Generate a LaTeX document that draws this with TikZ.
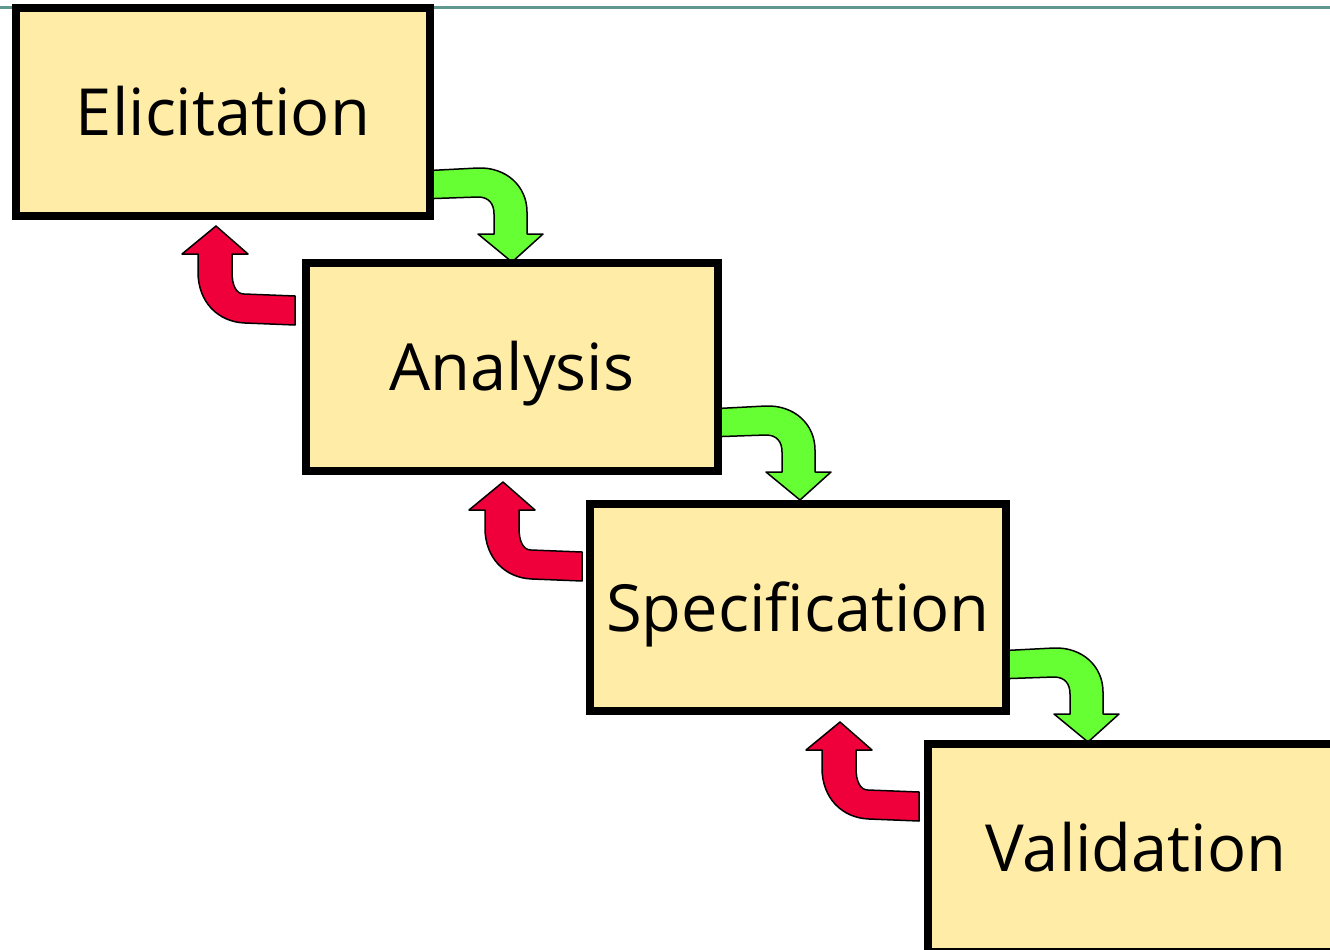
\documentclass[tikz,border=0pt]{standalone}
\usepackage{fontspec}
\setmainfont{Open Sans}
\usetikzlibrary{calc}

\definecolor{boxfill}{HTML}{FFECA6}
\definecolor{fwdgreen}{HTML}{66FF33}
\definecolor{backred}{HTML}{F0003A}
\definecolor{rulecol}{HTML}{5F9791}

\tikzset{
  stage/.style={draw=black, line width=8pt, fill=boxfill, inner sep=0pt,
    minimum height=208pt, text height=47pt, text depth=0pt,
    font=\fontsize{65}{78}\selectfont},
  blockline/.style={draw=black, line width=1.5pt, line join=round},
  % bent arrow going right, then down onto the next stage (origin = tip)
  pics/fwdarrow/.style={code={
    \path[blockline, fill=fwdgreen]
      (-92,-91) -- (-34,-94) .. controls (-6,-95) and (15,-76) .. (15,-50)
      -- (15,-28) -- (31,-28) -- (0,0) -- (-34,-28) -- (-18,-28) -- (-18,-48)
      .. controls (-18,-58) and (-23,-65) .. (-34,-65) -- (-92,-63) -- cycle;
  }},
  % bent arrow going left, then up back to the previous stage (origin = tip)
  pics/backarrow/.style={code={
    \path[blockline, fill=backred]
      (0,0) -- (32,28) -- (16,28) -- (16,46)
      .. controls (16,59) and (20,68) .. (28,68) -- (79,70) -- (79,99)
      -- (29,97) .. controls (2,96) and (-18,76) .. (-18,46)
      -- (-18,28) -- (-34,28) -- cycle;
  }}
}

\begin{document}
\begin{tikzpicture}[x=1pt, y=-1pt]
  \useasboundingbox (0,0) rectangle (1330,950);
  \clip (0,0) rectangle (1330,950);

  % header rule
  \draw[rulecol, line width=3pt] (0,8) -- (1330,8);

  % arrow tips
  \coordinate (g1) at (512,262);
  \coordinate (g2) at (800,500);
  \coordinate (g3) at (1088,742);
  \coordinate (r1) at (216,226);
  \coordinate (r2) at (503,482);
  \coordinate (r3) at (840,722);

  % forward and feedback arrows (drawn beneath the stages)
  \pic at (g1) {fwdarrow};
  \pic at (g2) {fwdarrow};
  \pic at (g3) {fwdarrow};
  \pic at (r1) {backarrow};
  \pic at (r2) {backarrow};
  \pic at (r3) {backarrow};

  % stages
  \node[stage, minimum width=414pt] (eli)  at (223,112)   {Elicitation};
  \node[stage, minimum width=412pt] (ana)  at (512,367)   {Analysis};
  \node[stage, minimum width=416pt, minimum height=207pt] (spec) at (798,607.5) {Specification};
  \node[stage, minimum width=416pt] (val)  at (1136,848)  {Validation};
\end{tikzpicture}
\end{document}
